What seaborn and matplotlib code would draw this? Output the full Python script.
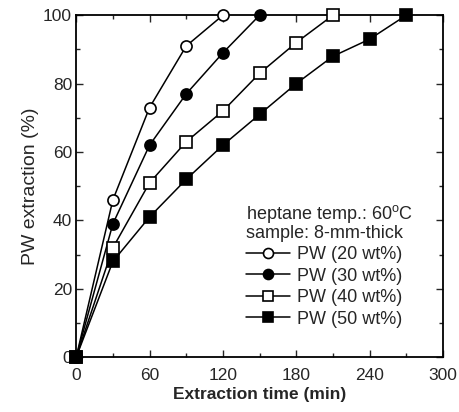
import pandas as pd
import seaborn as sns
import matplotlib.pyplot as plt
from matplotlib.ticker import MultipleLocator

# Data
time_20 = [0, 30, 60, 90, 120]
pw_20 = [0, 46, 73, 91, 100]

time_30 = [0, 30, 60, 90, 120, 150]
pw_30 = [0, 39, 62, 77, 89, 100]

time_40 = [0, 30, 60, 90, 120, 150, 180, 210]
pw_40 = [0, 32, 51, 63, 72, 83, 92, 100]

time_50 = [0, 30, 60, 90, 120, 150, 180, 210, 240, 270]
pw_50 = [0, 28, 41, 52, 62, 71, 80, 88, 93, 100]

labels = ["PW (20 wt%)", "PW (30 wt%)", "PW (40 wt%)", "PW (50 wt%)"]
x_ticks = [0, 60, 120, 180, 240, 300]
y_ticks = [0, 20, 40, 60, 80, 100]

sns.set_style("ticks")
plt.rcParams['font.family'] = ['Liberation Sans', 'DejaVu Sans']
plt.rcParams['font.size'] = 12.5

fig = plt.figure(figsize=(4.59, 4.12), dpi=100)
ax = fig.add_axes([0.166, 0.133, 0.799, 0.830])

series = [
    (time_20, pw_20, 'o', 'white'),
    (time_30, pw_30, 'o', 'black'),
    (time_40, pw_40, 's', 'white'),
    (time_50, pw_50, 's', 'black'),
]
for (t, p, m, fc), lab in zip(series, labels):
    sns.lineplot(x=t, y=p, ax=ax, color='black', lw=1.1, marker=m,
                 markersize=8, markerfacecolor=fc, markeredgecolor='black',
                 markeredgewidth=1.2, label=lab, clip_on=False, zorder=3)

ax.set_xlim(0, 300)
ax.set_ylim(0, 100)
ax.set_xticks(x_ticks)
ax.set_yticks(y_ticks)
ax.xaxis.set_minor_locator(MultipleLocator(30))
ax.yaxis.set_minor_locator(MultipleLocator(10))
ax.tick_params(which='both', direction='in', top=True, right=True,
               labelsize=12.5, width=1)
ax.tick_params(axis='x', pad=7.5)
ax.tick_params(axis='y', pad=3)
ax.tick_params(which='major', length=5)
ax.tick_params(which='minor', length=3)
for s in ax.spines.values():
    s.set_linewidth(1.3)
    s.set_color('black')

ax.set_xlabel("Extraction time (min)", fontsize=12.5, fontweight='bold', labelpad=3.5)
ax.set_ylabel("PW extraction (%)", fontsize=14, labelpad=3)

leg = ax.legend(title="heptane temp.: 60$^\\mathregular{o}$C\nsample: 8-mm-thick",
                loc='lower left', bbox_to_anchor=(0.444, 0.065), frameon=False,
                alignment='left', handlelength=2.4, handletextpad=0.4,
                labelspacing=0.25, fontsize=13, title_fontsize=13,
                borderaxespad=0, markerscale=0.9)
leg.get_title().set_linespacing(1.0)

fig.savefig("out.png", dpi=100)
